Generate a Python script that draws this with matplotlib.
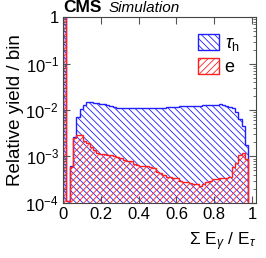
import matplotlib.pyplot as plt
import numpy as np

plt.rcParams['font.family'] = ['Liberation Sans', 'DejaVu Sans']
plt.rcParams['mathtext.fontset'] = 'custom'
plt.rcParams['mathtext.rm'] = 'Liberation Sans'
plt.rcParams['mathtext.it'] = 'Liberation Sans:italic'
plt.rcParams['hatch.linewidth'] = 0.6

# binned relative yields, 56 bins from 0 to 0.98
edges = np.linspace(0, 0.98, 57)
tau_h = [1.5, 1.1e-4, 6.2e-4, 2.6e-3, 7.0e-3, 1.05e-2, 1.3e-2, 1.47e-2,
         1.46e-2, 1.44e-2, 1.40e-2, 1.36e-2, 1.32e-2, 1.30e-2, 1.20e-2, 1.15e-2,
         1.12e-2, 1.10e-2, 1.10e-2, 1.09e-2, 1.10e-2, 1.10e-2, 1.09e-2, 1.10e-2,
         1.10e-2, 1.11e-2, 1.10e-2, 1.10e-2, 1.11e-2, 1.12e-2, 1.13e-2, 1.14e-2,
         1.15e-2, 1.17e-2, 1.18e-2, 1.20e-2, 1.20e-2, 1.22e-2, 1.22e-2, 1.23e-2,
         1.20e-2, 1.22e-2, 1.26e-2, 1.28e-2, 1.30e-2, 1.30e-2, 1.28e-2, 1.32e-2,
         1.26e-2, 1.25e-2, 1.18e-2, 1.08e-2, 9.0e-3, 6.5e-3, 4.5e-3, 1.8e-3]
ele = [1.5, 1.1e-4, 6.0e-4, 2.5e-3, 2.9e-3, 2.9e-3, 2.2e-3, 1.9e-3,
       1.6e-3, 1.37e-3, 1.2e-3, 1.1e-3, 1.1e-3, 1.09e-3, 1.07e-3, 1.04e-3,
       9.8e-4, 9.1e-4, 8.3e-4, 7.9e-4, 7.9e-4, 6.7e-4, 6.5e-4, 6.3e-4,
       6.3e-4, 6.3e-4, 6.0e-4, 5.6e-4, 4.7e-4, 4.4e-4, 4.0e-4, 3.6e-4,
       3.6e-4, 3.5e-4, 3.4e-4, 2.9e-4, 2.75e-4, 2.75e-4, 2.7e-4, 2.6e-4,
       2.5e-4, 2.3e-4, 2.5e-4, 2.8e-4, 3.0e-4, 3.2e-4, 3.2e-4, 3.4e-4,
       3.5e-4, 3.5e-4, 3.6e-4, 5.9e-4, 7.2e-4, 1.07e-3, 1.18e-3, 8.8e-4]

ytick_vals = [1e-4, 1e-3, 1e-2, 1e-1, 1]
ytick_labels = ['$10^{-4}$', '$10^{-3}$', '$10^{-2}$', '$10^{-1}$', '1']
xtick_vals = [0, 0.2, 0.4, 0.6, 0.8, 1]
xtick_labels = ['0', '0.2', '0.4', '0.6', '0.8', '1']

fig = plt.figure(figsize=(2.66, 2.58), dpi=100)
ax = fig.add_axes([0.237, 0.214, 0.725, 0.719])

ax.stairs(tau_h, edges, baseline=1e-6, fill=True, facecolor='none',
          edgecolor='#2020ff', hatch='\\\\\\\\\\', linewidth=1.0, label=r'$\tau_{\mathrm{h}}$')
ax.stairs(ele, edges, baseline=1e-6, fill=True, facecolor='none',
          edgecolor='#ff2020', hatch='/////', linewidth=1.0, label='e')

ax.set_yscale('log')
ax.set_ylim(1e-4, 1)
ax.set_xlim(0, 1.02)
ax.set_yticks(ytick_vals)
ax.set_yticklabels(ytick_labels)
ax.set_xticks(xtick_vals)
ax.set_xticklabels(xtick_labels)
ax.tick_params(which='both', direction='in', top=True, right=True, labelsize=12, pad=3,
               color='#555555')
ax.tick_params(which='major', length=5)
ax.tick_params(which='minor', length=2.5)
for s in ax.spines.values():
    s.set_linewidth(0.8)
    s.set_color('#444444')

ax.set_ylabel('Relative yield / bin', fontsize=13.5, labelpad=1)
ax.set_xlabel(r'$\Sigma$ E$_\gamma$ / E$_\tau$', fontsize=12.5, loc='right', labelpad=6)

fig.text(0.237, 0.943, 'CMS', fontsize=12.5, fontweight='bold', va='bottom')
fig.text(0.41, 0.943, 'Simulation', fontsize=11, style='italic', va='bottom')

ax.legend(loc='upper right', frameon=False, fontsize=13, handlelength=1.2,
          handleheight=1.0, borderaxespad=0.5, labelspacing=0.3, handletextpad=0.3)

fig.savefig('out.png', dpi=100)
